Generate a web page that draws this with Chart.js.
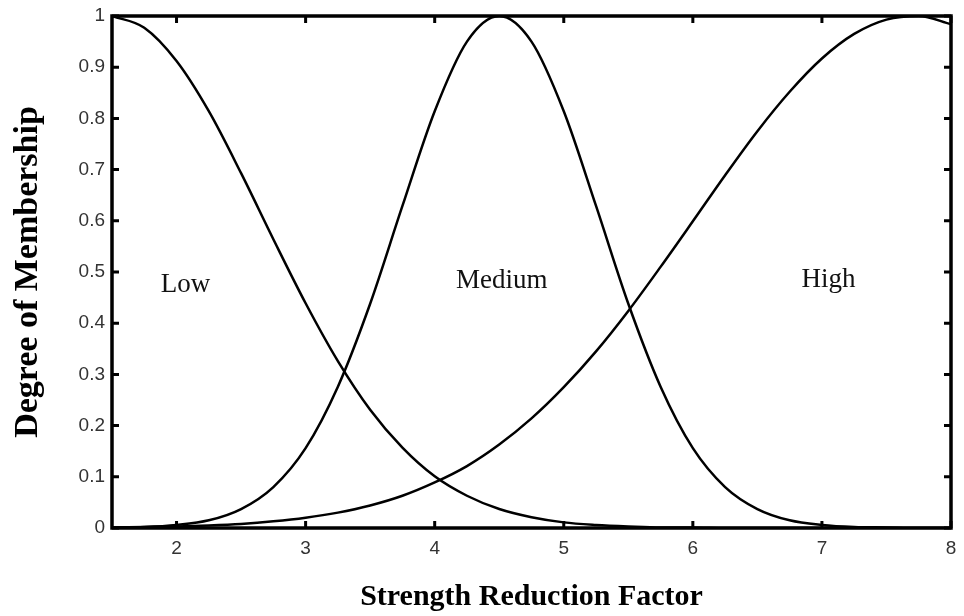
<!DOCTYPE html>
<html>
<head>
<meta charset="utf-8">
<script src="https://cdn.jsdelivr.net/npm/chart.js@4.4.0/dist/chart.umd.min.js"></script>
<style>
  html, body { margin: 0; padding: 0; background: #fff; }
  #wrap { width: 964px; height: 616px; position: relative; }
</style>
</head>
<body>
<div id="wrap"><canvas id="c" width="964" height="616"></canvas></div>
<script>
// Strength reduction factor samples (x axis)
const xValues = [1.5, 1.75, 2.0, 2.25, 2.5, 2.75, 3.0, 3.25, 3.5, 3.75, 4.0, 4.25, 4.5,
                 4.75, 5.0, 5.25, 5.5, 5.75, 6.0, 6.25, 6.5, 6.75, 7.0, 7.25, 7.5, 7.75, 8.0];

// Degree of membership of each fuzzy set at those samples
const lowValues = [1.000, 0.977, 0.912, 0.814, 0.693, 0.564, 0.439, 0.326, 0.231, 0.157,
                   0.101, 0.063, 0.037, 0.021, 0.011, 0.006, 0.003, 0.001, 0.001, 0.000,
                   0.000, 0.000, 0.000, 0.000, 0.000, 0.000, 0.000];
const mediumValues = [0.001, 0.002, 0.006, 0.015, 0.037, 0.080, 0.156, 0.276, 0.438, 0.629,
                      0.814, 0.950, 1.000, 0.950, 0.814, 0.629, 0.438, 0.276, 0.156, 0.080,
                      0.037, 0.015, 0.006, 0.002, 0.001, 0.000, 0.000];
const highValues = [0.001, 0.002, 0.003, 0.005, 0.008, 0.013, 0.020, 0.030, 0.044, 0.063,
                    0.089, 0.121, 0.163, 0.214, 0.275, 0.345, 0.424, 0.510, 0.599, 0.689,
                    0.775, 0.852, 0.917, 0.965, 0.993, 1.000, 0.984];

// Axis ticks
const xTicks = [2, 3, 4, 5, 6, 7, 8];
const yTicks = [0, 0.1, 0.2, 0.3, 0.4, 0.5, 0.6, 0.7, 0.8, 0.9, 1];

// Fuzzy set names and where each name sits (x, membership)
const setNames = ['Low', 'Medium', 'High'];
const setNameX = [2.07, 4.52, 7.05];
const setNameY = [0.461, 0.469, 0.471];

const SERIF = '"Liberation Serif", "Times New Roman", Times, serif';
const SANS = '"Liberation Sans", Arial, Helvetica, sans-serif';

function toPoints(values) {
  return values.map((v, i) => ({ x: xValues[i], y: v }));
}

function curve(label, values) {
  return {
    label,
    data: toPoints(values),
    borderColor: '#000',
    borderWidth: 2.5,
    pointRadius: 0,
    fill: false,
    cubicInterpolationMode: 'monotone'
  };
}

// Box frame with inward tick marks, plus the set names inside the plot
const framePlugin = {
  id: 'matlabFrame',
  afterDatasetsDraw(chart) {
    const { ctx, chartArea: a, scales: { x, y } } = chart;
    const len = 7;
    ctx.save();
    ctx.strokeStyle = '#000';
    ctx.lineWidth = 3;
    ctx.beginPath();
    xTicks.forEach(v => {
      const px = x.getPixelForValue(v);
      ctx.moveTo(px, a.bottom); ctx.lineTo(px, a.bottom - len);
      ctx.moveTo(px, a.top); ctx.lineTo(px, a.top + len);
    });
    yTicks.forEach(v => {
      const py = y.getPixelForValue(v);
      ctx.moveTo(a.left, py); ctx.lineTo(a.left + len, py);
      ctx.moveTo(a.right, py); ctx.lineTo(a.right - len, py);
    });
    ctx.stroke();
    ctx.lineWidth = 3.5;
    ctx.strokeRect(a.left, a.top, a.right - a.left, a.bottom - a.top);

    ctx.fillStyle = '#111';
    ctx.font = '27px ' + SERIF;
    ctx.textAlign = 'center';
    ctx.textBaseline = 'alphabetic';
    setNames.forEach((name, i) => {
      ctx.fillText(name, x.getPixelForValue(setNameX[i]), y.getPixelForValue(setNameY[i]));
    });
    ctx.restore();
  }
};

new Chart(document.getElementById('c'), {
  type: 'line',
  data: {
    datasets: [
      curve('Low', lowValues),
      curve('Medium', mediumValues),
      curve('High', highValues)
    ]
  },
  options: {
    responsive: false,
    animation: false,
    devicePixelRatio: 1,
    layout: { padding: { left: 8, right: 13, top: 16, bottom: 1 } },
    plugins: {
      legend: { display: false },
      tooltip: { enabled: false }
    },
    scales: {
      x: {
        type: 'linear',
        min: 1.5,
        max: 8,
        afterBuildTicks: s => { s.ticks = xTicks.map(v => ({ value: v })); },
        afterFit: s => { s.height = 87; s.paddingLeft = 0; s.paddingRight = 0; },
        grid: { display: false, drawTicks: false },
        border: { display: false },
        ticks: {
          color: '#333',
          font: { family: SANS, size: 19 },
          padding: 9,
          maxRotation: 0,
          autoSkip: false,
          callback: v => String(v)
        },
        title: {
          display: true,
          text: 'Strength Reduction Factor',
          color: '#000',
          font: { family: SERIF, size: 30, weight: 'bold' },
          padding: { top: 0, bottom: 0 }
        }
      },
      y: {
        type: 'linear',
        min: 0,
        max: 1,
        afterBuildTicks: s => { s.ticks = yTicks.map(v => ({ value: v })); },
        afterFit: s => { s.width = 104; s.paddingTop = 0; s.paddingBottom = 0; },
        grid: { display: false, drawTicks: false },
        border: { display: false },
        ticks: {
          color: '#333',
          font: { family: SANS, size: 19 },
          padding: 7,
          autoSkip: false,
          callback: v => String(+v.toFixed(1))
        },
        title: {
          display: true,
          text: 'Degree of Membership',
          color: '#000',
          font: { family: SERIF, size: 34, weight: 'bold' },
          padding: { top: 0, bottom: 0 }
        }
      }
    }
  },
  plugins: [framePlugin]
});
</script>
</body>
</html>
